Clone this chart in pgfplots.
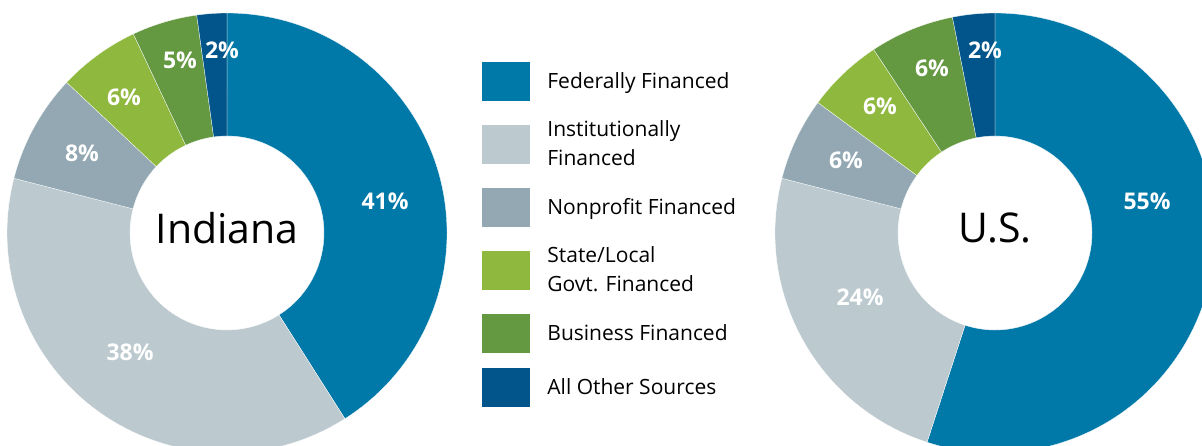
\documentclass[border=0pt]{standalone}
\usepackage{pgfplots}
\pgfplotsset{compat=1.18}
\usepackage{fontspec}
\setmainfont{Open Sans}
\definecolor{fed}{HTML}{0078A8}
\definecolor{inst}{HTML}{BCC9CF}
\definecolor{nonp}{HTML}{93A8B3}
\definecolor{state}{HTML}{8FB83E}
\definecolor{bus}{HTML}{649841}
\definecolor{other}{HTML}{01558A}
\pgfplotsset{swatch/.style={legend image code/.code={\fill[#1] (0pt,-19pt) rectangle (47pt,19pt);}}}
% #1,#2 centre (axis units), #3 start %, #4 end %, #5 colour
\newcommand{\slice}[5]{%
  \fill[#5, draw=white, line width=0.3pt]
    (axis cs:{#1+220*cos(90-3.6*(#3))},{#2+220*sin(90-3.6*(#3))})
    arc[start angle={90-3.6*(#3)}, end angle={90-3.6*(#4)}, radius=220pt]
    -- (axis cs:{#1+97*cos(90-3.6*(#4))},{#2+97*sin(90-3.6*(#4))})
    arc[start angle={90-3.6*(#4)}, end angle={90-3.6*(#3)}, radius=97pt]
    -- cycle;}
\newcommand{\pct}[3]{\node[text=white, font=\bfseries\fontsize{23}{27}\selectfont] at (axis cs:#1,#2) {#3};}
\begin{document}
\begin{tikzpicture}
\useasboundingbox (0,0) rectangle (1202pt,446pt);
\clip (0,0) rectangle (1202pt,446pt);
\begin{axis}[
  x=1pt, y=1pt, xmin=0, xmax=1202, ymin=0, ymax=446,
  hide axis, clip=true,
  legend cell align=left,
  legend style={at={(axis description cs:0.40100,0.88901)}, anchor=north west,
    draw=none, fill=none, inner sep=0pt, outer sep=0pt, row sep=0pt, column sep=18pt,
    font=\fontsize{21}{29}\selectfont,
    nodes={inner sep=0pt, minimum height=63pt, align=left, anchor=west}},
]
\addlegendimage{swatch=fed}\addlegendentry{Federally Financed}
\addlegendimage{swatch=inst}\addlegendentry{Institutionally\\Financed}
\addlegendimage{swatch=nonp}\addlegendentry{Nonprofit Financed}
\addlegendimage{swatch=state}\addlegendentry{State/Local\\Govt. Financed}
\addlegendimage{swatch=bus}\addlegendentry{Business Financed}
\addlegendimage{swatch=other}\addlegendentry[minimum height=45pt]{All Other Sources}
% Indiana: 41, 38, 8, 6, 4.8, 2.2
\slice{227}{213}{0}{41}{fed}
\slice{227}{213}{41}{79}{inst}
\slice{227}{213}{79}{87}{nonp}
\slice{227}{213}{87}{93}{state}
\slice{227}{213}{93}{97.8}{bus}
\slice{227}{213}{97.8}{100}{other}
% U.S.: 55, 24, 6.1, 5.6, 6.2, 3.1
\slice{995}{213}{0}{55}{fed}
\slice{995}{213}{55}{79}{inst}
\slice{995}{213}{79}{85.1}{nonp}
\slice{995}{213}{85.1}{90.7}{state}
\slice{995}{213}{90.7}{96.9}{bus}
\slice{995}{213}{96.9}{100}{other}
\pct{385}{245}{41\%}
\pct{130}{94}{38\%}
\pct{82}{293}{8\%}
\pct{124}{349}{6\%}
\pct{180}{386}{5\%}
\pct{222}{396}{2\%}
\pct{1147}{245}{55\%}
\pct{860}{149}{24\%}
\pct{846}{286}{6\%}
\pct{880}{340}{6\%}
\pct{932}{378}{6\%}
\pct{985}{396}{2\%}
\node[anchor=base, font=\fontsize{41}{48}\selectfont] at (axis cs:227,202) {Indiana};
\node[anchor=base, font=\fontsize{41}{48}\selectfont] at (axis cs:995,203) {U.S.};
\end{axis}
\end{tikzpicture}
\end{document}
